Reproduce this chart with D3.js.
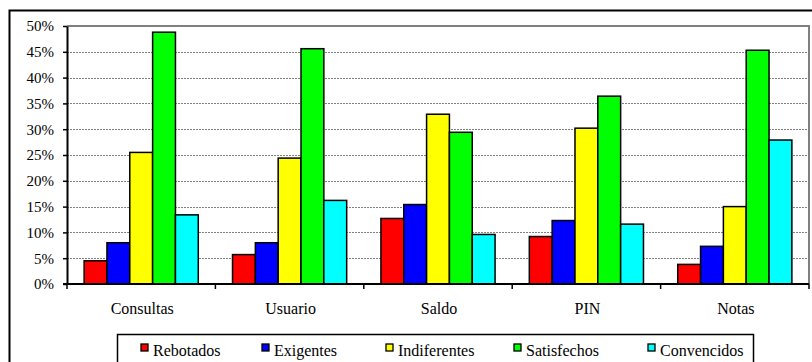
<!DOCTYPE html>
<html>
<head>
<meta charset="utf-8">
<script src="https://cdn.jsdelivr.net/npm/d3@7"></script>
<style>
  html, body { margin: 0; padding: 0; background: #fff; }
  svg { display: block; }
</style>
</head>
<body>
<svg id="chart" width="812" height="362"></svg>
<script>
// Survey categories and share of each user profile (percent)
const categories = ["Consultas", "Usuario", "Saldo", "PIN", "Notas"];
const seriesNames = ["Rebotados", "Exigentes", "Indiferentes", "Satisfechos", "Convencidos"];
const seriesColors = ["#ff0000", "#0000ff", "#ffff00", "#00ff00", "#00ffff"];
const rebotados    = [4.5, 5.7, 12.7, 9.2, 3.8];
const exigentes    = [8.0, 8.0, 15.4, 12.3, 7.3];
const indiferentes = [25.5, 24.4, 32.9, 30.2, 15.0];
const satisfechos  = [48.8, 45.6, 29.4, 36.4, 45.3];
const convencidos  = [13.4, 16.2, 9.6, 11.6, 27.9];
const yTicks = [0, 5, 10, 15, 20, 25, 30, 35, 40, 45, 50];

const FONT = "'Liberation Serif', 'Times New Roman', serif";

const seriesValues = [rebotados, exigentes, indiferentes, satisfechos, convencidos];
const rows = categories.map((c, i) => ({
  category: c,
  values: seriesNames.map((s, k) => ({ series: s, value: seriesValues[k][i], color: seriesColors[k] }))
}));

const svg = d3.select("#chart");
const plot = { left: 67, right: 809, top: 26, bottom: 284 };

// outer chart frame
svg.append("rect")
  .attr("x", 9.5).attr("y", 10.5)
  .attr("width", 812).attr("height", 400)
  .attr("fill", "none").attr("stroke", "#000").attr("stroke-width", 2);

const x0 = d3.scaleBand().domain(categories).range([plot.left, plot.right]).padding(0);
const x1 = d3.scaleBand().domain(seriesNames).range([0, x0.bandwidth()])
  .paddingInner(0).paddingOuter(0.75);
const y = d3.scaleLinear().domain([0, 50]).range([plot.bottom, plot.top]);

// dashed gridlines
svg.append("g").selectAll("line")
  .data(yTicks.filter(t => t > 0 && t < 50))
  .join("line")
  .attr("x1", plot.left).attr("x2", plot.right)
  .attr("y1", d => Math.round(y(d)) + 0.5).attr("y2", d => Math.round(y(d)) + 0.5)
  .attr("stroke", "#808080").attr("stroke-width", 1.2)
  .attr("stroke-dasharray", "2,1");

// plot-area frame (top and right)
svg.append("path")
  .attr("d", `M${plot.left},${plot.top}H${plot.right}V${plot.bottom}`)
  .attr("fill", "none").attr("stroke", "#808080").attr("stroke-width", 2);

// bars
svg.append("g").selectAll("g")
  .data(rows)
  .join("g")
  .attr("transform", d => `translate(${x0(d.category)},0)`)
  .selectAll("rect")
  .data(d => d.values)
  .join("rect")
  .attr("x", d => x1(d.series))
  .attr("width", x1.bandwidth())
  .attr("y", d => y(d.value))
  .attr("height", d => y(0) - y(d.value))
  .attr("fill", d => d.color)
  .attr("stroke", "#000").attr("stroke-width", 1.5);

// y axis
const yAxis = d3.axisLeft(y).tickValues(yTicks).tickFormat(d => d + "%")
  .tickSize(4).tickSizeOuter(0).tickPadding(9);
const gy = svg.append("g").attr("transform", `translate(${plot.left},0)`).call(yAxis)
  .attr("font-family", FONT).attr("font-size", 15);
gy.select(".domain").attr("stroke", "#000").attr("stroke-width", 2);
gy.selectAll(".tick line").attr("stroke", "#000").attr("stroke-width", 1.5);
gy.selectAll(".tick text").attr("fill", "#000").style("font-family", FONT).style("font-size", "15px");

// x axis with ticks at category boundaries
const gx = svg.append("g").attr("transform", `translate(0,${plot.bottom})`);
gx.append("line").attr("x1", plot.left - 4).attr("x2", plot.right)
  .attr("stroke", "#000").attr("stroke-width", 2);
const bounds = categories.map(c => x0(c)).concat([plot.right]);
gx.selectAll("line.tick").data(bounds).join("line").attr("class", "tick")
  .attr("x1", d => d).attr("x2", d => d).attr("y1", 0).attr("y2", 5)
  .attr("stroke", "#000").attr("stroke-width", 1.5);
gx.selectAll("text").data(categories).join("text")
  .attr("x", d => x0(d) + x0.bandwidth() / 2 + 1)
  .attr("y", 30)
  .attr("text-anchor", "middle")
  .style("font-family", FONT)
  .style("font-size", "16px")
  .attr("fill", "#000")
  .text(d => d);

// legend: boxed row of swatches below the plot
const legendSlots = [141, 262, 386, 514, 648];
const legend = svg.append("g");
legend.append("rect")
  .attr("x", 117.5).attr("y", 334.5).attr("width", 636).attr("height", 60)
  .attr("fill", "#fff").attr("stroke", "#000").attr("stroke-width", 1.5);
const items = legend.selectAll("g.item")
  .data(seriesNames.map((s, k) => ({ name: s, color: seriesColors[k], x: legendSlots[k] })))
  .join("g").attr("class", "item")
  .attr("transform", d => `translate(${d.x},0)`);
items.append("rect")
  .attr("x", 0).attr("y", 344).attr("width", 7).attr("height", 7)
  .attr("fill", d => d.color).attr("stroke", "#000").attr("stroke-width", 1.3);
items.append("text")
  .attr("x", 12).attr("y", 355.5)
  .style("font-family", FONT)
  .style("font-size", "16px")
  .attr("fill", "#000")
  .text(d => d.name);
</script>
</body>
</html>
